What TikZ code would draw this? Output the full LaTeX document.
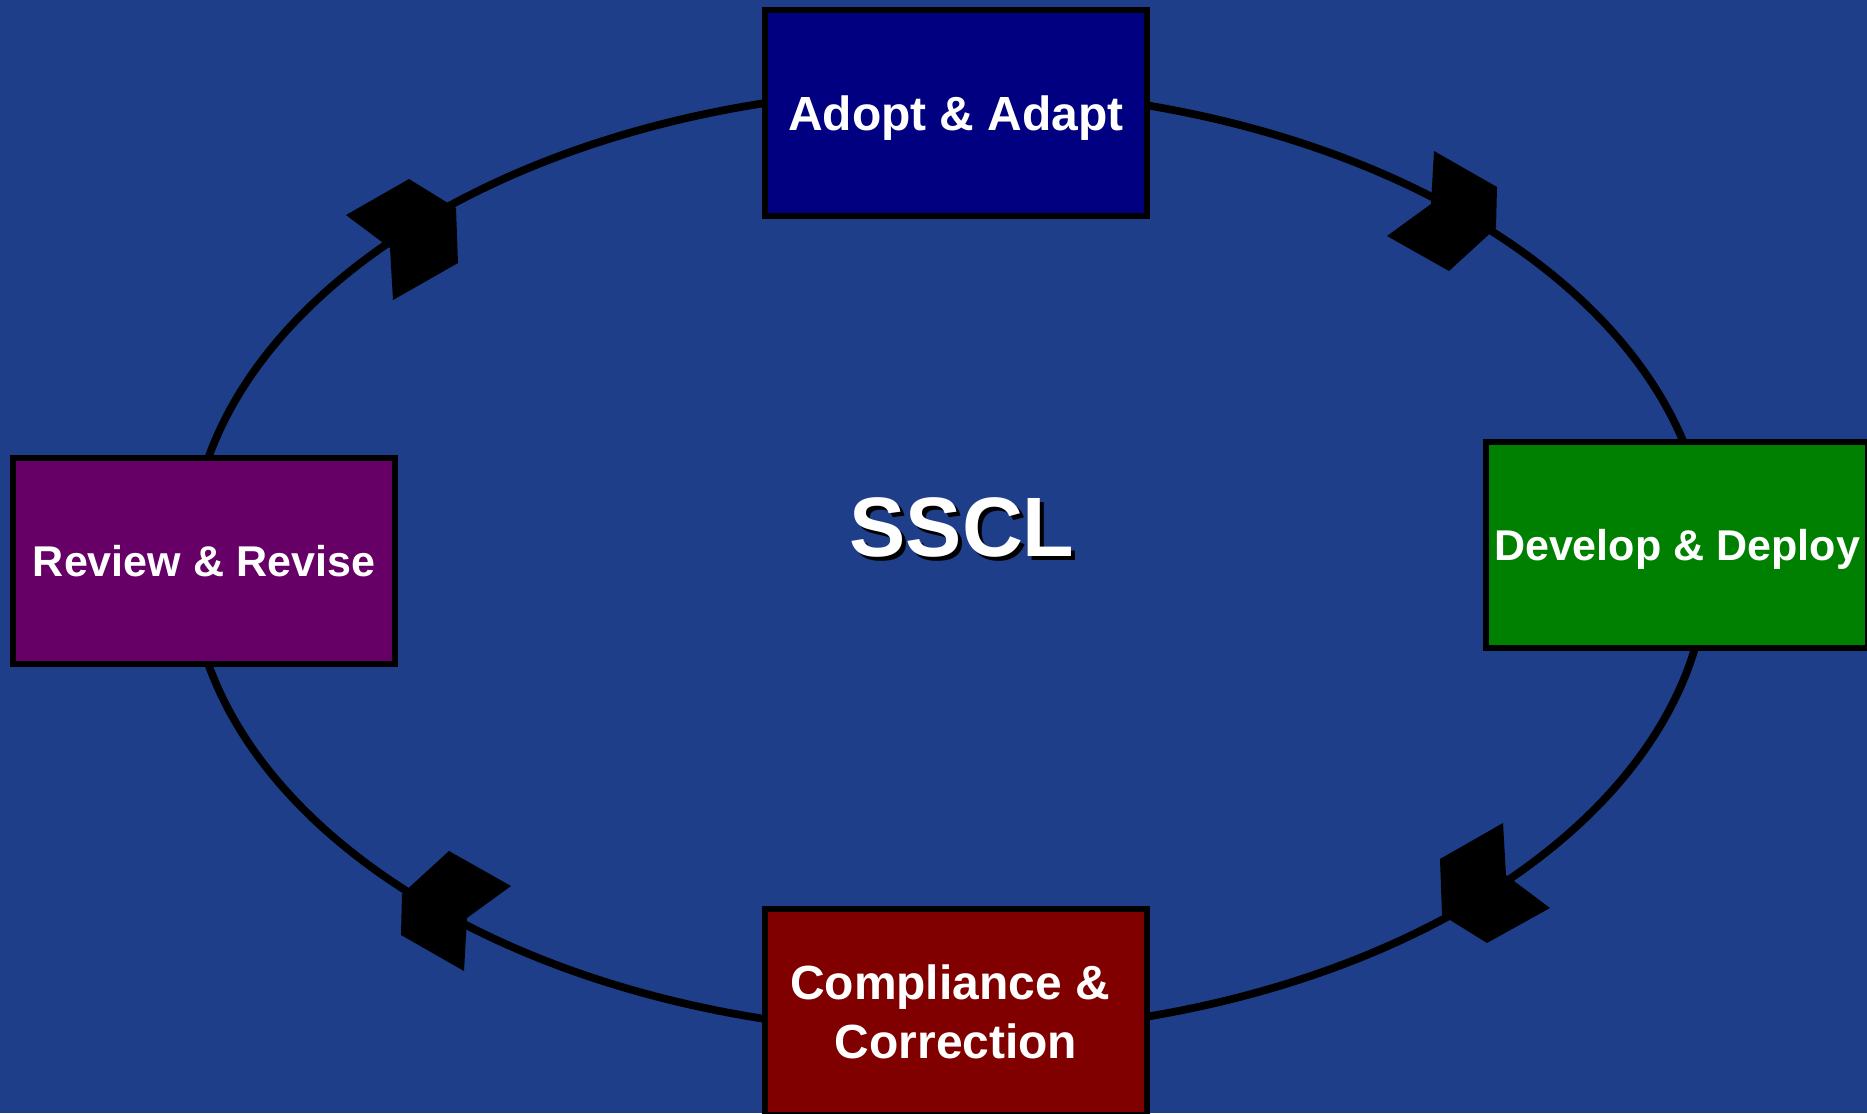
\documentclass[tikz,border=0pt]{standalone}
\usepackage{fontspec}
\setmainfont{Liberation Sans}
\definecolor{bgblue}{RGB}{30,62,137}
\definecolor{adoptblue}{RGB}{0,0,128}
\definecolor{deploygreen}{RGB}{0,128,0}
\definecolor{fixred}{RGB}{128,0,0}
\definecolor{revisepurple}{RGB}{102,0,102}
\tikzset{stage node/.style={rectangle,draw=black,line width=0.12cm,minimum width=7.66cm,minimum height=4.14cm,inner sep=0pt,text=white},
big text/.style={font=\fontsize{27.3}{33.6}\selectfont\bfseries,text height=0.68cm,text depth=0pt},
small text/.style={font=\fontsize{24.5}{30}\selectfont\bfseries,text height=0.62cm,text depth=0pt},
ring head/.style={fill=black},
}

\begin{document}
\begin{tikzpicture}[x=0.02cm,y=-0.02cm]
				\useasboundingbox (0,0) rectangle (1867,1113);
				\clip (0,0) rectangle (1867,1113);
				\fill[bgblue] (0,0) rectangle (1867,1113);
				
				\coordinate (ctr) at (949,561);
				\draw[line width=0.155cm] (ctr) ellipse [x radius=15.18cm, y radius=9.44cm];
				
				\fill[ring head] (1434,151) -- (1497,187) -- (1496,228) -- (1449,271) -- (1387,236) -- (1431,204) -- cycle;
				\fill[ring head] (1503,823) -- (1506,875) -- (1550,908) -- (1487,943) -- (1442,915) -- (1440,859) -- cycle;
				\fill[ring head] (464,971) -- (401,935) -- (402,894) -- (449,851) -- (511,886) -- (467,918) -- cycle;
				\fill[ring head] (409,179) -- (456,208) -- (458,263) -- (393,300) -- (390,248) -- (346,215) -- cycle;
				
				\node[stage node,big text,fill=adoptblue] (A) at (956,113) {Adopt \& Adapt};
				\node[stage node,small text,fill=deploygreen] (D) at (1677,545) {Develop \& Deploy};
				\node[stage node,fill=fixred,align=center,font=\fontsize{27.3}{33.6}\selectfont\bfseries] (C) at (956,1012) {Compliance \&\kern.25em\\Correction};
				\node[stage node,small text,fill=revisepurple] (R) at (204,561) {Review \& Revise};
				
				\node[font=\fontsize{48}{52}\selectfont\bfseries,text=black] (S2) at (966,531) {SSCL};
				\node[font=\fontsize{48}{52}\selectfont\bfseries,text=white] (S) at (962,527) {SSCL};
				
			\end{tikzpicture}
\end{document}
